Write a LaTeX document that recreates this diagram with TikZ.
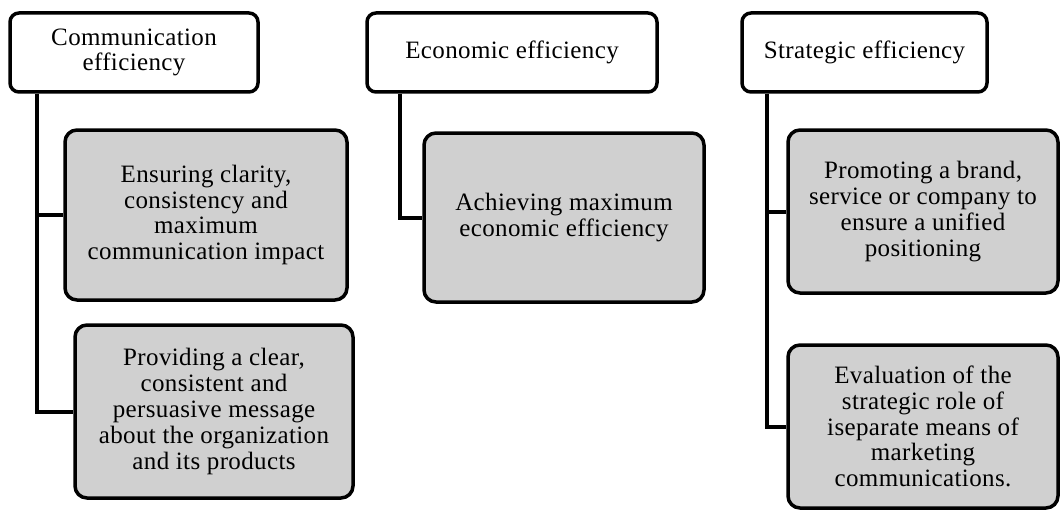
\documentclass[tikz,border=0pt]{standalone}
\usepackage{fontspec}
\setmainfont{Liberation Serif}[LetterSpace=1.5]
\usetikzlibrary{positioning}

\definecolor{boxgray}{RGB}{208,208,208}

\tikzset{
  headbox/.style={draw, line width=3.5pt, rounded corners=9pt, fill=white,
    align=center, inner sep=2pt, font=\fontsize{25}{25}\selectfont},
  itembox/.style={draw, line width=3.5pt, rounded corners=12pt, fill=boxgray,
    align=center, inner sep=2pt, font=\fontsize{25}{25.8}\selectfont},
  trunk/.style={line width=4pt}
}

\begin{document}
\begin{tikzpicture}[x=1pt, y=-1pt]
\useasboundingbox (0,0) rectangle (1061,511);
% headers
\node[headbox, minimum width=248pt, minimum height=79pt] (commHead) at (134,52.5) {Communication\\efficiency};
\node[headbox, minimum width=290pt, minimum height=79pt] (econHead) at (512,52.5) {Economic efficiency};
\node[headbox, minimum width=245pt, minimum height=79pt] (stratHead) at (864.5,52.5) {Strategic efficiency};
% gray items
\node[itembox, minimum width=282pt, minimum height=170pt] (comm1) at (206,215)
  {Ensuring clarity,\\consistency and\\maximum\\communication impact};
\node[itembox, minimum width=278pt, minimum height=173pt] (comm2) at (214,411.5)
  {Providing a clear,\\consistent and\\persuasive message\\about the organization\\and  its products};
\node[itembox, minimum width=280pt, minimum height=169pt] (econ1) at (564,217.5)
  {Achieving maximum\\economic efficiency};
\node[itembox, minimum width=270pt, minimum height=163pt] (strat1) at (923,211.5)
  {Promoting a brand,\\service or company to\\ensure a unified\\positioning};
\node[itembox, minimum width=270pt, minimum height=163pt] (strat2) at (923,426.5)
  {Evaluation of the\\strategic role of\\iseparate means of\\marketing\\communications.};
% trunks under the headers
\coordinate (commTop) at (commHead.south west -| 37,0);
\coordinate (econTop) at (econHead.south west -| 400,0);
\coordinate (stratTop) at (stratHead.south west -| 767,0);
\begin{scope}[on background layer/.try]
\draw[trunk] (commTop) |- (comm1.west);
\draw[trunk] (commTop) |- (comm2.west);
\draw[trunk] (econTop) |- (econ1.west);
\draw[trunk] (stratTop) |- (strat1.west);
\draw[trunk] (stratTop) |- (strat2.west);
\end{scope}
\end{tikzpicture}
\end{document}
